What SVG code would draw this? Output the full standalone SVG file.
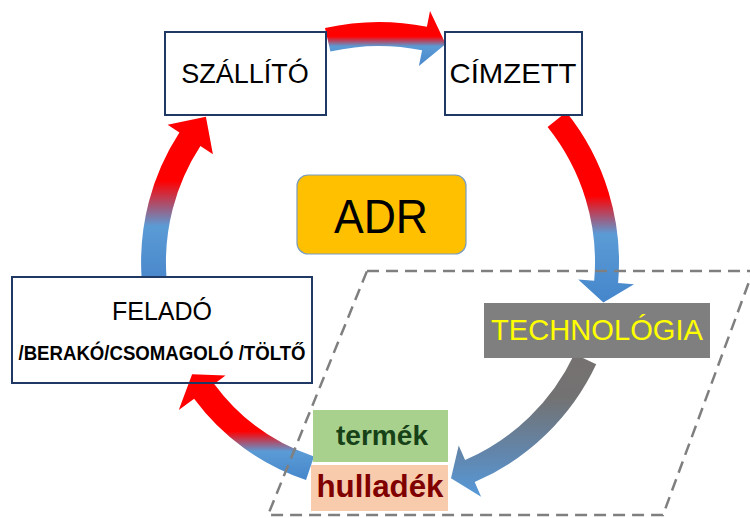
<svg xmlns="http://www.w3.org/2000/svg" width="750" height="518" viewBox="0 0 750 518">
  <style>
    .box { fill: #ffffff; stroke: #203864; stroke-width: 2; }
    .lbl { font-family: "Liberation Sans", Arial, sans-serif; fill: #000000; text-anchor: middle; }
    .bold { font-weight: bold; }
    .zone { fill: none; stroke: #7f7f7f; stroke-width: 2.5; stroke-dasharray: 12 7; }
  </style>
  <defs>
    <linearGradient id="gA" x1="0" y1="0" x2="0" y2="1">
      <stop offset="0" stop-color="#ff0000"/>
      <stop offset="0.46" stop-color="#ff0000"/>
      <stop offset="0.64" stop-color="#5b9bd5"/>
      <stop offset="1" stop-color="#4a88cc"/>
    </linearGradient>
    <linearGradient id="gB" x1="0" y1="0" x2="0" y2="1">
      <stop offset="0" stop-color="#ff0000"/>
      <stop offset="0.44" stop-color="#ff0000"/>
      <stop offset="0.64" stop-color="#5b9bd5"/>
      <stop offset="1" stop-color="#4586cc"/>
    </linearGradient>
    <linearGradient id="gC" x1="0" y1="0" x2="0" y2="1">
      <stop offset="0" stop-color="#767171"/>
      <stop offset="0.3" stop-color="#737272"/>
      <stop offset="0.7" stop-color="#6286ac"/>
      <stop offset="1" stop-color="#5599da"/>
    </linearGradient>
    <linearGradient id="gD" x1="0" y1="0" x2="0" y2="1">
      <stop offset="0" stop-color="#ff0000"/>
      <stop offset="0.54" stop-color="#ff0000"/>
      <stop offset="0.73" stop-color="#5b9bd5"/>
      <stop offset="1" stop-color="#4586cc"/>
    </linearGradient>
    <linearGradient id="gE" x1="0" y1="0" x2="0" y2="1">
      <stop offset="0" stop-color="#ff0000"/>
      <stop offset="0.4" stop-color="#ff0000"/>
      <stop offset="0.68" stop-color="#5b9bd5"/>
      <stop offset="1" stop-color="#4a88cc"/>
    </linearGradient>
  </defs>

  <rect x="0" y="0" width="750" height="518" fill="#ffffff"/>

  <g id="connectors">
    <path id="arrow-szallito-cimzett" fill="url(#gA)" d="M325.0,28.1 A240,240 0 0,1 426.9,26.8 L430.0,11.1 L445.7,44.0 L418.9,66.0 L422.1,50.3 A216,216 0 0,0 330.4,51.5 Z"/>
    <path id="arrow-cimzett-technologia" fill="url(#gB)" d="M566.3,112.0 A240,240 0 0,1 618.1,282.9 L634.0,284.3 L603.4,302.4 L578.2,279.4 L594.2,280.8 A216,216 0 0,0 547.6,127.0 Z"/>
    <path id="arrow-technologia-hulladek" fill="url(#gC)" d="M596.2,364.2 A240,240 0 0,1 474.7,482.1 L481.1,496.8 L451.0,478.3 L458.7,445.4 L465.1,460.1 A216,216 0 0,0 574.4,354.0 Z"/>
    <path id="arrow-hulladek-felado" fill="url(#gD)" d="M306.0,480.1 A230,230 0 0,1 194.1,398.8 L178.8,410.1 L192.1,374.3 L225.5,375.6 L214.2,383.9 A205,205 0 0,0 314.0,456.4 Z"/>
    <path id="arrow-felado-szallito" fill="url(#gE)" d="M141.6,277.5 A238,238 0 0,1 179.4,132.4 L167.6,124.8 L205.9,116.7 L212.9,154.2 L200.4,146.0 A213,213 0 0,0 166.5,277.5 Z"/>
  </g>

  <g id="zone">
    <polygon class="zone" points="367,271 753,271 663,515 268,515"/>
  </g>

  <g id="szallito">
    <rect class="box" x="165" y="32" width="161" height="83"/>
    <text class="lbl" x="245" y="83" font-size="27">SZÁLLÍTÓ</text>
  </g>

  <g id="cimzett">
    <rect class="box" x="445" y="32" width="137" height="83"/>
    <text class="lbl" x="513" y="83" font-size="28" textLength="127" lengthAdjust="spacingAndGlyphs">CÍMZETT</text>
  </g>

  <g id="felado">
    <rect class="box" x="12" y="277" width="300" height="106" fill="none" style="fill:none"/>
    <text class="lbl" x="162" y="320" font-size="25">FELADÓ</text>
    <text class="lbl bold" x="162" y="360" font-size="20" textLength="287" lengthAdjust="spacingAndGlyphs">/BERAKÓ/CSOMAGOLÓ /TÖLTŐ</text>
  </g>

  <g id="adr">
    <rect x="297" y="175" width="169" height="79" rx="11" ry="11" fill="#ffc000" stroke="#7a9cc0" stroke-width="1.2"/>
    <text class="lbl" x="381" y="233" font-size="48" textLength="94" lengthAdjust="spacingAndGlyphs">ADR</text>
  </g>

  <g id="technologia">
    <rect x="484" y="303" width="226" height="55" fill="#7f7f7f"/>
    <text class="lbl" x="597" y="340" font-size="29" fill="#ffff00" style="fill:#ffff00" textLength="212" lengthAdjust="spacingAndGlyphs">TECHNOLÓGIA</text>
  </g>

  <g id="termek">
    <rect x="313" y="410" width="135" height="52" fill="#a9d18e"/>
    <text class="lbl bold" x="382" y="445" font-size="27" style="fill:#174217" textLength="92" lengthAdjust="spacingAndGlyphs">termék</text>
  </g>

  <g id="hulladek">
    <rect x="311" y="465" width="137" height="46" fill="#f8cbad"/>
    <text class="lbl bold" x="380" y="497" font-size="32" style="fill:#800000" textLength="127" lengthAdjust="spacingAndGlyphs">hulladék</text>
  </g>
</svg>
